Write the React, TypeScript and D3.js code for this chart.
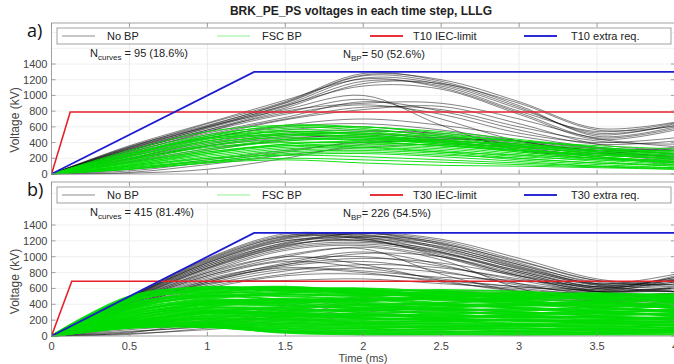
import * as d3 from "d3";

// sample times (ms) shared by every curve
const TIME_MS = [0, 0.5, 1, 1.5, 2, 2.5, 3, 3.5, 4];
const X_TICKS = [0, 0.5, 1, 1.5, 2, 2.5, 3, 3.5, 4];
const Y_TICKS = [0, 200, 400, 600, 800, 1000, 1200, 1400];

// panel a) T10
const A_NO_BP: number[][] = [
  [0, 350, 620, 900, 1250, 1160, 850, 500, 640],
  [0, 330, 600, 880, 1220, 1140, 830, 520, 620],
  [0, 340, 640, 920, 1280, 1180, 870, 480, 600],
  [0, 320, 580, 860, 1180, 1120, 800, 540, 650],
  [0, 360, 650, 940, 1210, 1100, 780, 460, 580],
  [0, 310, 560, 840, 1150, 1150, 900, 560, 610],
  [0, 300, 590, 870, 1120, 1080, 760, 440, 560],
  [0, 340, 610, 910, 1260, 1200, 920, 580, 660],
  [0, 280, 520, 720, 920, 800, 560, 380, 420],
  [0, 300, 540, 760, 880, 760, 520, 400, 460],
  [0, 260, 500, 700, 850, 820, 600, 420, 380],
  [0, 290, 560, 780, 950, 700, 420, 300, 340],
  [0, 250, 480, 690, 820, 860, 640, 380, 300],
  [0, 320, 600, 820, 1000, 620, 300, 260, 320],
  [0, 270, 540, 800, 900, 900, 700, 450, 350],
  [0, 200, 400, 520, 560, 480, 380, 300, 280],
  [0, 180, 360, 480, 540, 520, 420, 320, 260],
  [0, 220, 420, 560, 600, 500, 360, 260, 240],
  [0, 150, 300, 440, 500, 460, 380, 300, 200],
  [0, 240, 460, 600, 640, 560, 420, 280, 220],
  [0, 60, 180, 300, 400, 420, 360, 280, 180],
  [0, 20, 120, 240, 340, 380, 340, 260, 160],
  [0, 40, 150, 280, 420, 460, 400, 300, 220],
  [0, 160, 320, 420, 460, 400, 300, 200, 150],
  [0, 200, 380, 500, 520, 440, 340, 220, 120],
  [0, 230, 450, 620, 700, 620, 480, 340, 300],
  [0, 190, 350, 460, 480, 420, 320, 240, 200],
  [0, 10, 60, 200, 380, 440, 420, 330, 250],
];

const A_FSC_BP: number[][] = [
  [0, 300, 540, 620, 580, 480, 380, 300, 260],
  [0, 280, 500, 600, 560, 500, 420, 340, 280],
  [0, 260, 480, 580, 600, 520, 400, 280, 220],
  [0, 240, 460, 560, 540, 460, 360, 300, 300],
  [0, 220, 440, 540, 520, 480, 420, 360, 320],
  [0, 200, 420, 520, 500, 420, 320, 240, 200],
  [0, 250, 450, 500, 460, 400, 340, 280, 240],
  [0, 180, 380, 500, 520, 440, 350, 260, 180],
  [0, 160, 360, 480, 480, 420, 380, 320, 260],
  [0, 200, 400, 460, 420, 360, 300, 240, 200],
  [0, 150, 320, 440, 460, 400, 320, 220, 160],
  [0, 140, 300, 420, 440, 380, 300, 260, 220],
  [0, 170, 340, 400, 400, 360, 280, 200, 140],
  [0, 120, 280, 380, 420, 400, 340, 260, 200],
  [0, 130, 260, 360, 380, 340, 260, 180, 120],
  [0, 110, 240, 340, 360, 320, 240, 160, 100],
  [0, 100, 220, 320, 340, 300, 220, 180, 160],
  [0, 90, 200, 300, 320, 280, 240, 200, 140],
  [0, 80, 180, 280, 300, 260, 180, 120, 80],
  [0, 70, 160, 260, 280, 240, 200, 140, 100],
  [0, 60, 140, 240, 260, 220, 160, 100, 60],
  [0, 100, 200, 240, 220, 180, 140, 100, 80],
  [0, 80, 160, 200, 180, 150, 120, 90, 70],
  [0, 60, 140, 180, 140, 110, 100, 80, 60],
  [0, 220, 420, 500, 480, 400, 300, 220, 160],
  [0, 260, 460, 540, 500, 430, 360, 300, 240],
  [0, 190, 360, 440, 440, 380, 280, 200, 180],
  [0, 140, 280, 360, 340, 280, 200, 140, 120],
  [0, 240, 480, 620, 600, 540, 440, 340, 260],
  [0, 110, 260, 380, 400, 360, 300, 220, 140],
];

// panel b) T30
const B_NO_BP: number[][] = [
  [0, 500, 960, 1260, 1280, 1120, 860, 640, 700],
  [0, 490, 940, 1240, 1300, 1150, 880, 660, 720],
  [0, 480, 920, 1220, 1270, 1100, 840, 620, 680],
  [0, 500, 980, 1290, 1250, 1060, 800, 600, 740],
  [0, 470, 900, 1200, 1240, 1130, 900, 680, 650],
  [0, 460, 880, 1180, 1290, 1200, 950, 700, 620],
  [0, 490, 950, 1250, 1220, 1020, 760, 580, 760],
  [0, 450, 860, 1150, 1200, 1080, 850, 650, 700],
  [0, 480, 900, 1170, 1260, 1180, 920, 660, 600],
  [0, 440, 840, 1120, 1180, 1060, 820, 620, 680],
  [0, 470, 880, 1160, 1300, 1220, 980, 720, 640],
  [0, 500, 970, 1270, 1230, 1000, 740, 560, 720],
  [0, 430, 820, 1100, 1160, 1040, 800, 600, 660],
  [0, 460, 860, 1140, 1220, 1110, 870, 640, 560],
  [0, 480, 930, 1230, 1300, 1170, 900, 660, 780],
  [0, 420, 800, 1080, 1140, 1000, 760, 560, 620],
  [0, 450, 850, 1130, 1250, 1160, 940, 700, 700],
  [0, 490, 920, 1200, 1200, 1050, 820, 620, 740],
  [0, 420, 760, 960, 1000, 880, 700, 560, 600],
  [0, 400, 720, 900, 980, 920, 760, 600, 560],
  [0, 440, 800, 1000, 900, 700, 560, 500, 540],
  [0, 380, 700, 920, 1060, 900, 660, 520, 500],
  [0, 410, 740, 940, 860, 720, 620, 560, 600],
  [0, 390, 680, 880, 940, 820, 640, 540, 520],
  [0, 360, 640, 820, 900, 860, 720, 580, 560],
  [0, 430, 780, 1020, 1100, 780, 560, 480, 520],
  [0, 370, 660, 840, 800, 680, 580, 540, 580],
  [0, 350, 620, 780, 860, 800, 660, 560, 500],
  [0, 400, 700, 860, 820, 740, 700, 620, 560],
  [0, 340, 600, 760, 780, 700, 620, 580, 600],
  [0, 420, 760, 1000, 1120, 960, 600, 440, 480],
  [0, 380, 680, 900, 1040, 1000, 780, 560, 480],
  [0, 360, 660, 700, 720, 660, 600, 520, 540],
  [0, 60, 120, 260, 420, 500, 480, 440, 400],
  [0, 20, 100, 200, 300, 360, 400, 380, 360],
  [0, 80, 160, 320, 480, 540, 520, 460, 420],
  [0, 40, 180, 240, 340, 420, 460, 420, 380],
  [0, 30, 80, 160, 260, 320, 300, 260, 200],
  [0, 100, 200, 380, 500, 560, 540, 480, 460],
  [0, 50, 140, 300, 440, 480, 420, 360, 320],
];

const B_FSC_BP: number[][] = [
  [0, 500, 610, 590, 600, 560, 530, 540, 510],
  [0, 470, 590, 620, 570, 580, 560, 500, 480],
  [0, 455, 560, 600, 590, 520, 545, 520, 530],
  [0, 430, 600, 560, 530, 555, 500, 470, 450],
  [0, 410, 520, 580, 560, 500, 520, 530, 490],
  [0, 395, 545, 530, 510, 540, 470, 440, 500],
  [0, 370, 490, 545, 580, 470, 480, 500, 420],
  [0, 350, 510, 500, 470, 490, 510, 460, 460],
  [0, 330, 470, 520, 500, 450, 430, 410, 470],
  [0, 315, 430, 470, 450, 470, 400, 430, 380],
  [0, 300, 455, 440, 480, 420, 450, 370, 410],
  [0, 280, 400, 450, 420, 390, 380, 400, 350],
  [0, 265, 420, 410, 390, 410, 350, 330, 390],
  [0, 250, 370, 430, 400, 360, 390, 350, 320],
  [0, 230, 390, 380, 350, 340, 320, 360, 300],
  [0, 215, 350, 360, 380, 330, 340, 300, 340],
  [0, 200, 330, 330, 320, 350, 300, 280, 270],
  [0, 185, 300, 350, 300, 300, 280, 310, 250],
  [0, 170, 310, 300, 330, 280, 300, 260, 290],
  [0, 155, 280, 290, 280, 260, 250, 240, 230],
  [0, 145, 260, 270, 250, 270, 230, 250, 200],
  [0, 135, 250, 240, 260, 230, 240, 210, 240],
  [0, 125, 230, 250, 230, 210, 200, 190, 180],
  [0, 150, 220, 220, 210, 220, 190, 200, 210],
  [0, 140, 210, 200, 190, 180, 200, 160, 150],
  [0, 130, 190, 210, 170, 190, 160, 170, 170],
  [0, 120, 180, 180, 160, 150, 140, 150, 130],
  [0, 110, 170, 160, 150, 160, 150, 120, 140],
  [0, 135, 160, 150, 130, 130, 120, 130, 100],
  [0, 125, 150, 130, 120, 110, 130, 100, 110],
  [0, 115, 140, 120, 100, 120, 90, 90, 80],
  [0, 140, 130, 100, 90, 80, 100, 70, 90],
  [0, 120, 125, 90, 70, 90, 70, 80, 60],
  [0, 110, 120, 70, 60, 60, 50, 50, 70],
  [0, 130, 115, 60, 40, 50, 60, 40, 40],
  [0, 120, 110, 50, 30, 30, 30, 30, 50],
  [0, 100, 120, 40, 20, 20, 15, 20, 20],
  [0, 480, 620, 575, 545, 525, 510, 490, 460],
  [0, 440, 580, 610, 525, 505, 490, 515, 500],
  [0, 380, 540, 600, 540, 490, 465, 480, 430],
  [0, 340, 500, 460, 440, 480, 440, 380, 440],
  [0, 290, 440, 420, 460, 400, 410, 420, 360],
  [0, 240, 410, 390, 360, 380, 360, 320, 310],
  [0, 210, 360, 320, 340, 320, 270, 290, 260],
  [0, 175, 320, 280, 270, 240, 260, 230, 220],
  [0, 160, 290, 260, 220, 200, 210, 180, 190],
];

// limit lines: [time, kV] corners
const A_IEC: [number, number][] = [[0, 0], [0.12, 790], [4, 790]];
const A_EXTRA: [number, number][] = [[0, 0], [1.3, 1300], [4, 1300]];
const B_IEC: [number, number][] = [[0, 0], [0.13, 690], [4, 690]];
const B_EXTRA: [number, number][] = [[0, 0], [1.3, 1300], [4, 1300]];

const FONT = "'Liberation Sans', Arial, sans-serif";
const x = d3.scaleLinear().domain([0, 4]).range([51.5, 675]);

type PanelProps = {
  id: string;
  top: number;
  zeroY: number;
  tickY: number;
  noBp: number[][];
  fsc: number[][];
  iec: [number, number][];
  extra: [number, number][];
  tag: string;
  nCurves: string;
  nBp: string;
  letter: string;
  fscWidth: number;
};

function Panel(p: PanelProps) {
  const y = d3.scaleLinear().domain([0, 1400]).range([p.zeroY, p.tickY]);
  const x0 = x.range()[0];
  const x1 = x.range()[1];
  const curve = d3
    .line<number>()
    .x((_, i) => x(TIME_MS[i]))
    .y((d) => y(d))
    .curve(d3.curveCatmullRom.alpha(0.5));
  const limit = d3
    .line<[number, number]>()
    .x((d) => x(d[0]))
    .y((d) => y(d[1]));
  const lgTop = p.top + 5;
  const lgMid = lgTop + 8;
  const items = [
    { label: "No BP", color: "#8c8c8c", w: 1, lx: 62, tx: 107 },
    { label: "FSC BP", color: "#8ef08e", w: 1, lx: 217, tx: 262 },
    { label: `${p.tag} IEC-limit`, color: "#e8333a", w: 2, lx: 370, tx: 413 },
    { label: `${p.tag} extra req.`, color: "#2a2ad0", w: 2, lx: 524, tx: 571 },
  ];
  const yTop = y.invert(p.top);
  return (
    <g>
      <defs>
        <clipPath id={p.id}>
          <rect x={x0} y={p.top} width={x1 - x0} height={p.zeroY - p.top + 0.6} />
        </clipPath>
      </defs>
      <rect x={x0} y={p.top} width={x1 - x0} height={p.zeroY - p.top} fill="#fff" />
      {X_TICKS.slice(1, -1).map((t) => (
        <line key={t} x1={x(t)} x2={x(t)} y1={p.top} y2={p.zeroY} stroke="#e6e6e6" strokeWidth={0.8} />
      ))}
      {Y_TICKS.slice(1).concat([1600, 1800].filter((v) => v < yTop)).map((v) => (
        <line key={v} x1={x0} x2={x1} y1={y(v)} y2={y(v)} stroke="#ececec" strokeWidth={0.8} />
      ))}
      <g clipPath={`url(#${p.id})`} fill="none">
        {p.noBp.map((c, i) => (
          <path key={"k" + i} d={curve(c) ?? ""} stroke="#111" strokeOpacity={0.65} strokeWidth={0.8} />
        ))}
        {p.fsc.map((c, i) => (
          <path key={"g" + i} d={curve(c) ?? ""} stroke="#00dc00" strokeOpacity={0.9} strokeWidth={p.fscWidth} />
        ))}
        <path d={limit(p.iec) ?? ""} stroke="#e8202a" strokeWidth={1.6} />
        <path d={limit(p.extra) ?? ""} stroke="#1c1cd0" strokeWidth={1.8} />
      </g>
      {/* legend */}
      <rect x={57} y={lgTop} width={614} height={16} fill="#fff" stroke="#8a8a8a" strokeWidth={0.8} />
      {items.map((it) => (
        <g key={it.label}>
          <line x1={it.lx} x2={it.lx + 33} y1={lgMid} y2={lgMid} stroke={it.color} strokeWidth={it.w} />
          <text x={it.tx} y={lgMid + 4} fontSize={11} fill="#222" fontFamily={FONT}>
            {it.label}
          </text>
        </g>
      ))}
      <text x={90} y={p.top + 34} fontSize={11} fill="#222" fontFamily={FONT}>
        N<tspan fontSize={8} dy={3}>curves</tspan>
        <tspan dy={-3}>{` = ${p.nCurves}`}</tspan>
      </text>
      <text x={343} y={p.top + 35} fontSize={11} fill="#222" fontFamily={FONT}>
        N<tspan fontSize={8} dy={3}>BP</tspan>
        <tspan dy={-3}>{`= ${p.nBp}`}</tspan>
      </text>
      {/* axes box and ticks */}
      <rect x={x0} y={p.top} width={x1 - x0} height={p.zeroY - p.top} fill="none" stroke="#8a8a8a" strokeWidth={0.8} />
      {X_TICKS.map((t) => (
        <g key={t} stroke="#8a8a8a" strokeWidth={0.8}>
          <line x1={x(t)} x2={x(t)} y1={p.zeroY} y2={p.zeroY - 4} />
          <line x1={x(t)} x2={x(t)} y1={p.top} y2={p.top + 4} />
        </g>
      ))}
      {Y_TICKS.map((v) => (
        <g key={v}>
          <line x1={x0} x2={x0 + 4} y1={y(v)} y2={y(v)} stroke="#8a8a8a" strokeWidth={0.8} />
          <line x1={x1 - 4} x2={x1} y1={y(v)} y2={y(v)} stroke="#8a8a8a" strokeWidth={0.8} />
          <text x={x0 - 4} y={y(v) + 4} fontSize={11} fill="#444" textAnchor="end" fontFamily={FONT}>
            {v}
          </text>
        </g>
      ))}
      <text
        transform={`translate(19,${(p.zeroY + y(1400)) / 2 + 1}) rotate(-90)`}
        fontSize={12}
        fill="#444"
        textAnchor="middle"
        fontFamily={FONT}
      >
        Voltage (kV)
      </text>
      <text x={27} y={p.top + 14} fontSize={18} fill="#111" fontFamily="'Open Sans', sans-serif">
        {p.letter}
      </text>
    </g>
  );
}

export default function App() {
  return (
    <svg
      width={674}
      height={364}
      viewBox="0 0 674 364"
      style={{ position: "absolute", left: 0, top: 0, background: "#fff" }}
    >
      <rect width={674} height={364} fill="#fff" />
      <text x={361} y={15} fontSize={12} fontWeight="bold" textAnchor="middle" fill="#222" fontFamily={FONT}>
        BRK_PE_PS voltages in each time step, LLLG
      </text>
      <Panel
        id="clipA"
        top={23}
        zeroY={174}
        tickY={64}
        noBp={A_NO_BP}
        fsc={A_FSC_BP}
        iec={A_IEC}
        extra={A_EXTRA}
        tag="T10"
        nCurves="95 (18.6%)"
        nBp="50 (52.6%)"
        letter="a)"
        fscWidth={1}
      />
      <Panel
        id="clipB"
        top={182}
        zeroY={336}
        tickY={225}
        noBp={B_NO_BP}
        fsc={B_FSC_BP}
        iec={B_IEC}
        extra={B_EXTRA}
        tag="T30"
        nCurves="415 (81.4%)"
        nBp="226 (54.5%)"
        letter="b)"
        fscWidth={2}
      />
      {X_TICKS.map((t) => (
        <text key={t} x={x(t)} y={350} fontSize={11} fill="#444" textAnchor="middle" fontFamily={FONT}>
          {t}
        </text>
      ))}
      <text x={363} y={362} fontSize={11} fill="#444" textAnchor="middle" fontFamily={FONT}>
        Time (ms)
      </text>
    </svg>
  );
}
